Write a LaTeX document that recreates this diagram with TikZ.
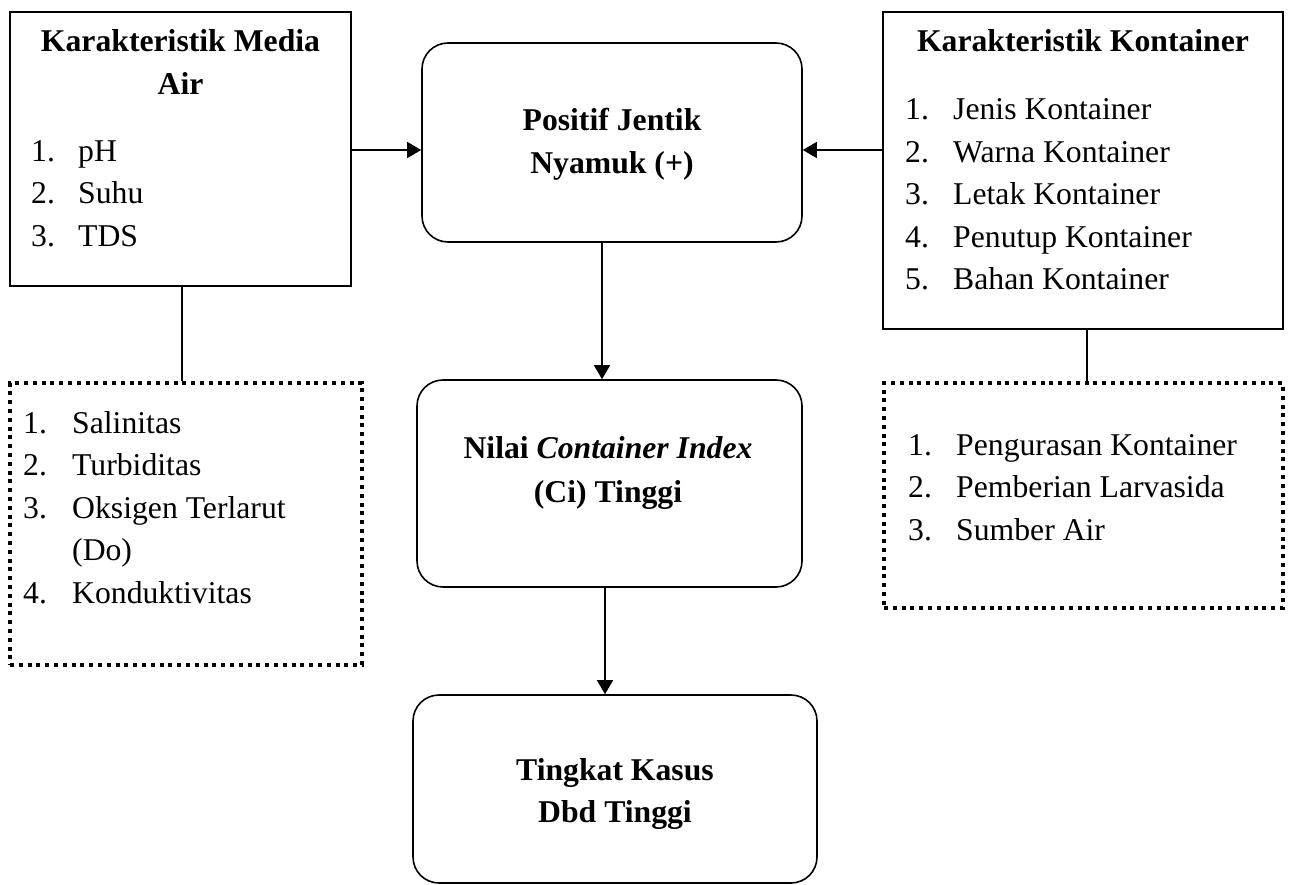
\documentclass[tikz,border=0pt]{standalone}
\usepackage{fontspec}
\setmainfont{Liberation Serif}
\usetikzlibrary{arrows.meta}
\begin{document}
\begin{tikzpicture}[x=1pt,y=-1pt,
  font=\fontsize{31.7}{42.5}\selectfont,
  box/.style={draw,line width=1.6pt,inner sep=0pt},
  rbox/.style={box,rounded corners=26pt},
  dbox/.style={draw,line width=4pt,dash pattern=on 4pt off 4.8pt,inner sep=0pt},
  txt/.style={anchor=base west,inner sep=0pt},
  ctxt/.style={anchor=base,inner sep=0pt,font=\fontsize{31.7}{42.5}\selectfont\bfseries},
  arr/.style={line width=1.6pt,-{Triangle[length=14pt,width=16pt]}},
  con/.style={line width=1.6pt}]
\useasboundingbox (0,0) rectangle (1290,885);

% boxes
\node[box,minimum width=341pt,minimum height=274pt] (media) at (180.5,149) {};
\node[dbox,minimum width=352pt,minimum height=282pt] (dotl) at (186,524) {};
\node[box,minimum width=400pt,minimum height=317pt] (kont) at (1083,170.5) {};
\node[dbox,minimum width=399pt,minimum height=225pt] (dotr) at (1083.5,495.5) {};
\node[rbox,minimum width=380pt,minimum height=199pt] (pos) at (612,142.5) {};
\node[rbox,minimum width=385pt,minimum height=207pt] (nilai) at (609.5,483.5) {};
\node[rbox,minimum width=404pt,minimum height=188pt] (ting) at (615,789) {};

% left box text
\node[ctxt] (t1a) at (180.5,52) {Karakteristik Media};
\node[ctxt] (t1b) at (180.5,95) {Air};
\node[txt] (l1n) at (31,162) {1.};  \node[txt] (l1) at (78,162) {pH};
\node[txt] (l2n) at (31,204) {2.};  \node[txt] (l2) at (78,204) {Suhu};
\node[txt] (l3n) at (31,247) {3.};  \node[txt] (l3) at (78,247) {TDS};

% left dotted text
\node[txt] (d1n) at (23,433) {1.}; \node[txt] (d1) at (72,433) {Salinitas};
\node[txt] (d2n) at (23,475) {2.}; \node[txt] (d2) at (72,475) {Turbiditas};
\node[txt] (d3n) at (23,518) {3.}; \node[txt] (d3) at (72,518) {Oksigen Terlarut};
\node[txt] (d3b) at (72,560) {(Do)};
\node[txt] (d4n) at (23,603) {4.}; \node[txt] (d4) at (72,603) {Konduktivitas};

% right box text
\node[ctxt] (t2) at (1083,52) {Karakteristik Kontainer};
\node[txt] (k1n) at (905,120) {1.}; \node[txt] (k1) at (953,120) {Jenis Kontainer};
\node[txt] (k2n) at (905,163) {2.}; \node[txt] (k2) at (953,163) {Warna Kontainer};
\node[txt] (k3n) at (905,205) {3.}; \node[txt] (k3) at (953,205) {Letak Kontainer};
\node[txt] (k4n) at (905,248) {4.}; \node[txt] (k4) at (953,248) {Penutup Kontainer};
\node[txt] (k5n) at (905,290) {5.}; \node[txt] (k5) at (953,290) {Bahan Kontainer};

% right dotted text
\node[txt] (r1n) at (908,455) {1.}; \node[txt] (r1) at (956,455) {Pengurasan Kontainer};
\node[txt] (r2n) at (908,497.5) {2.}; \node[txt] (r2) at (956,497.5) {Pemberian Larvasida};
\node[txt] (r3n) at (908,540) {3.}; \node[txt] (r3) at (956,540) {Sumber Air};

% center texts
\node[ctxt] (p1) at (612,131) {Positif Jentik};
\node[ctxt] (p2) at (612,174) {Nyamuk (+)};
\node[ctxt] (n1) at (608,458) {Nilai \textit{Container Index}};
\node[ctxt] (n2) at (608,502) {(Ci) Tinggi};
\node[ctxt] (g1) at (615,780) {Tingkat Kasus};
\node[ctxt] (g2) at (615,822) {Dbd Tinggi};

% connectors
\draw[arr] (media.east |- 0,150) -- (pos.west |- 0,150);
\draw[arr] (kont.west |- 0,150) -- (pos.east |- 0,150);
\draw[arr] (pos.south -| 602,0) -- (nilai.north -| 602,0);
\draw[arr] (nilai.south -| 605,0) -- (ting.north -| 605,0);
\draw[con] (media.south -| 182,0) -- (dotl.north -| 182,0);
\draw[con] (kont.south -| 1087,0) -- (dotr.north -| 1087,0);
\end{tikzpicture}
\end{document}
